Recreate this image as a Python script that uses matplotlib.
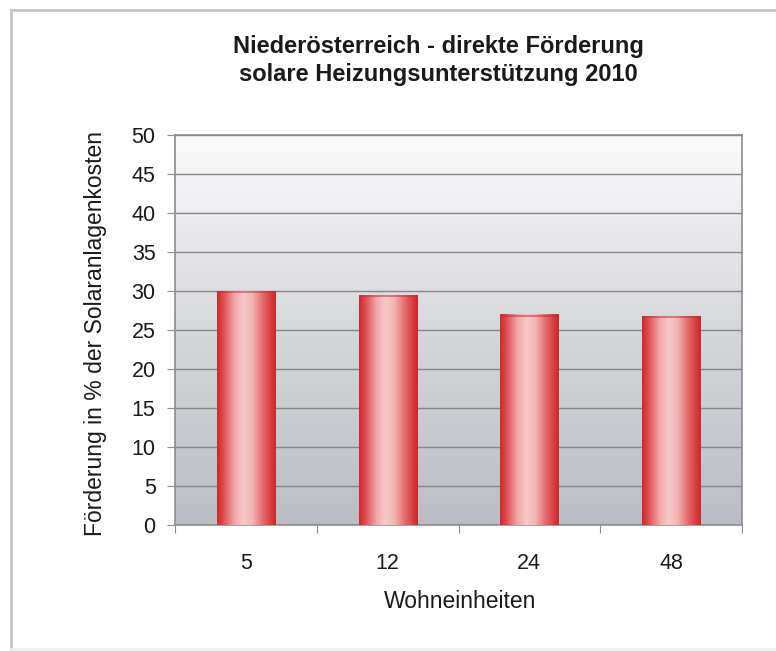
import numpy as np
import matplotlib
matplotlib.use("Agg")
import matplotlib.pyplot as plt
from matplotlib.lines import Line2D
from matplotlib.colors import LinearSegmentedColormap

plt.rcParams['font.family'] = ['Liberation Sans', 'DejaVu Sans']

# Förderung je Anlagengröße
wohneinheiten = ['5', '12', '24', '48']
foerderung = [30.0, 29.5, 27.0, 26.8]

title_lines = ['Niederösterreich - direkte Förderung',
               'solare Heizungsunterstützung 2010']
y_label = 'Förderung in % der Solaranlagenkosten'
x_label = 'Wohneinheiten'

W, H = 776, 651
fig = plt.figure(figsize=(W / 100, H / 100), dpi=100)
fig.patch.set_facecolor('white')

# chart area frame (light gray, open to the right/bottom)
frame_kw = dict(color='#c4c4c4', linewidth=2.0, transform=fig.transFigure)
fig.add_artist(Line2D([11 / W, 11 / W], [1 - 10 / H, 1 - 649 / H], **frame_kw))
fig.add_artist(Line2D([11 / W, 1.0], [1 - 10 / H, 1 - 10 / H], **frame_kw))
fig.add_artist(Line2D([11 / W, 1.0], [1 - 649 / H, 1 - 649 / H],
                      color='#ececec', linewidth=2.0, transform=fig.transFigure))

ax = fig.add_axes([175 / W, 1 - 525 / H, 567 / W, 390 / H])

# plot area gradient, white on top to gray at the bottom
bg = LinearSegmentedColormap.from_list('bg', ['#bbbdc3', '#d6d7db', '#fbfbfc'])
ax.imshow(np.linspace(0, 1, 256).reshape(-1, 1)[::-1], cmap=bg, aspect='auto',
          extent=[0, 1, 0, 1], transform=ax.transAxes, zorder=0)

x = np.arange(len(wohneinheiten))
bars = ax.bar(x, foerderung, width=0.41, color='none', edgecolor='none', zorder=3)

# cylinder-like shading across each bar
bar_cmap = LinearSegmentedColormap.from_list('bar', [
    (0.00, '#c92b2e'), (0.10, '#df4a4c'), (0.30, '#f2a9aa'), (0.45, '#f8c8c8'),
    (0.60, '#f3b4b4'), (0.80, '#e46264'), (0.93, '#d63a3d'), (1.00, '#c8292c')])
shade = np.linspace(0, 1, 200).reshape(1, -1)
for b in bars:
    x0, w, h = b.get_x(), b.get_width(), b.get_height()
    im = ax.imshow(shade, cmap=bar_cmap, aspect='auto',
                   extent=[x0, x0 + w, 0, h], zorder=3)
    im.set_clip_path(b)
    # slightly darker rim at the top
    ax.plot([x0, x0 + w], [h - 0.15, h - 0.15], color='#b83035',
            linewidth=1.2, alpha=0.6, zorder=4, solid_capstyle='butt')

ax.set_xlim(-0.5, len(wohneinheiten) - 0.5)
ax.set_ylim(0, 50)
ax.set_yticks(np.arange(0, 51, 5))
ax.yaxis.grid(True, color='#85868a', linewidth=1.0, zorder=1)
ax.set_axisbelow(True)

# boundary ticks between categories, labels at the centers
ax.set_xticks(np.arange(-0.5, len(wohneinheiten)))
ax.set_xticklabels([])
ax.set_xticks(x, minor=True)
ax.set_xticklabels(wohneinheiten, minor=True)
ax.tick_params(axis='x', which='major', length=6, color='#8c8c8c', direction='out')
ax.tick_params(axis='x', which='minor', length=0, pad=20, labelsize=15.5,
               labelcolor='#1a1a1a')
ax.tick_params(axis='y', length=6, color='#8c8c8c', direction='out', pad=8,
               labelsize=15.5, labelcolor='#1a1a1a')

for s in ax.spines.values():
    s.set_color('#8c8c8c')
    s.set_linewidth(1.2)

fig.text(438 / W, 1 - 47 / H, title_lines[0], ha='center', va='center',
         fontsize=17, fontweight='bold', color='#1a1a1a')
fig.text(438 / W, 1 - 75 / H, title_lines[1], ha='center', va='center',
         fontsize=17, fontweight='bold', color='#1a1a1a')
fig.text(96 / W, 1 - 333 / H, y_label, rotation=90, ha='center', va='center',
         fontsize=16.5, color='#1a1a1a')
fig.text(460 / W, 1 - 601 / H, x_label, ha='center', va='center',
         fontsize=16.5, color='#1a1a1a')

fig.savefig('out.png', dpi=100)
